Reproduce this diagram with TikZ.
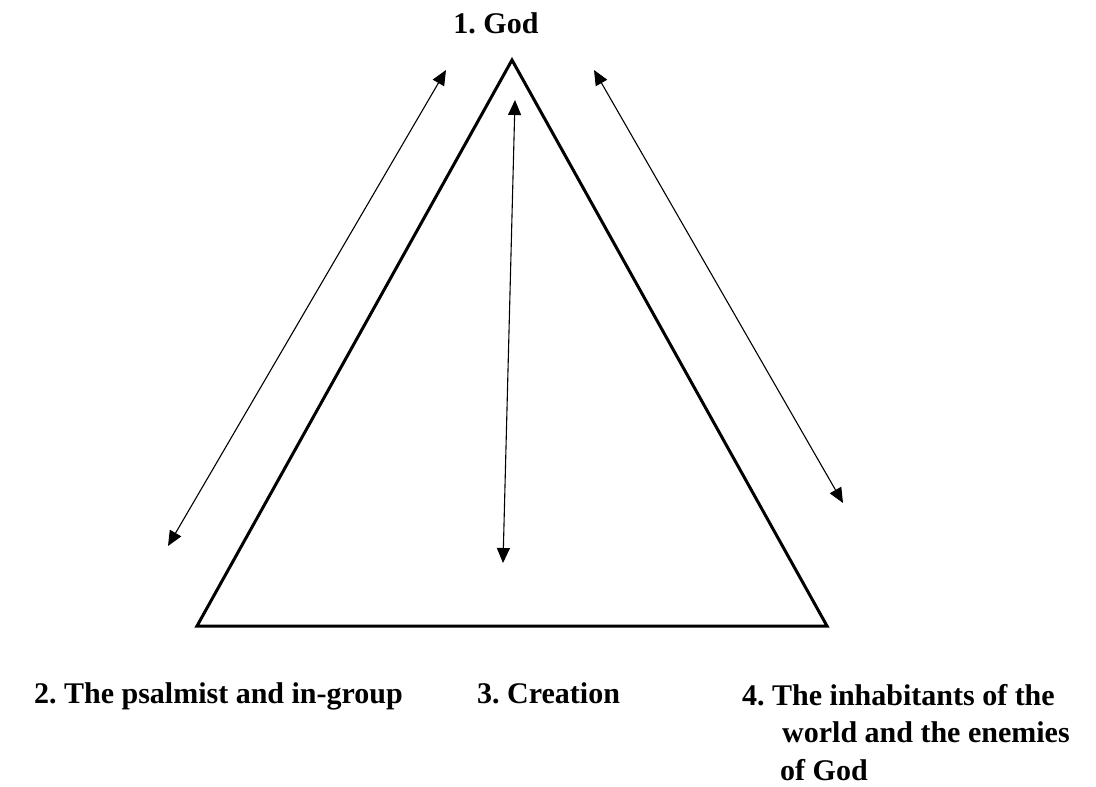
\documentclass[tikz,border=0pt]{standalone}
\usepackage{fontspec}
\setmainfont{Liberation Serif}
\usetikzlibrary{arrows.meta}
\frenchspacing
\begin{document}
\begin{tikzpicture}[x=1pt,y=-1pt,
  lbl/.style={inner sep=0pt,font=\fontsize{30}{37}\selectfont\bfseries},
  tri/.style={line width=3pt,line join=miter},
  rel/.style={line width=1.1pt,{Triangle[length=15pt,width=13pt]}-{Triangle[length=15pt,width=13pt]}}]
\useasboundingbox (0,0) rectangle (1096,787);
\fill[white] (0,0) rectangle (1096,787);
% triangle corners
\coordinate (apex) at (512,60);
\coordinate (bl) at (197,626);
\coordinate (br) at (827,626);
\draw[tri] (apex) -- (bl) -- (br) -- cycle;
% arrow end points
\coordinate (la) at (446,70);
\coordinate (lb) at (168,546);
\coordinate (ma) at (515,100);
\coordinate (mb) at (503,563);
\coordinate (ra) at (594,70);
\coordinate (rb) at (843,503);
\draw[rel] (la) -- (lb);
\draw[rel] (ma) -- (mb);
\draw[rel] (ra) -- (rb);
% labels
\node[lbl,anchor=base] (god) at (496,33) {1. God};
\node[lbl,anchor=base east] (psalmist) at (403,703) {2. The psalmist and in-group};
\node[lbl,anchor=base west] (creation) at (477,703) {3. Creation};
\node[lbl,anchor=base west] (inhab1) at (742,705) {4. The inhabitants of the};
\node[lbl,anchor=base west] (inhab2) at (782,742) {world and the enemies};
\node[lbl,anchor=base west] (inhab3) at (780,780) {of God};
\end{tikzpicture}
\end{document}
